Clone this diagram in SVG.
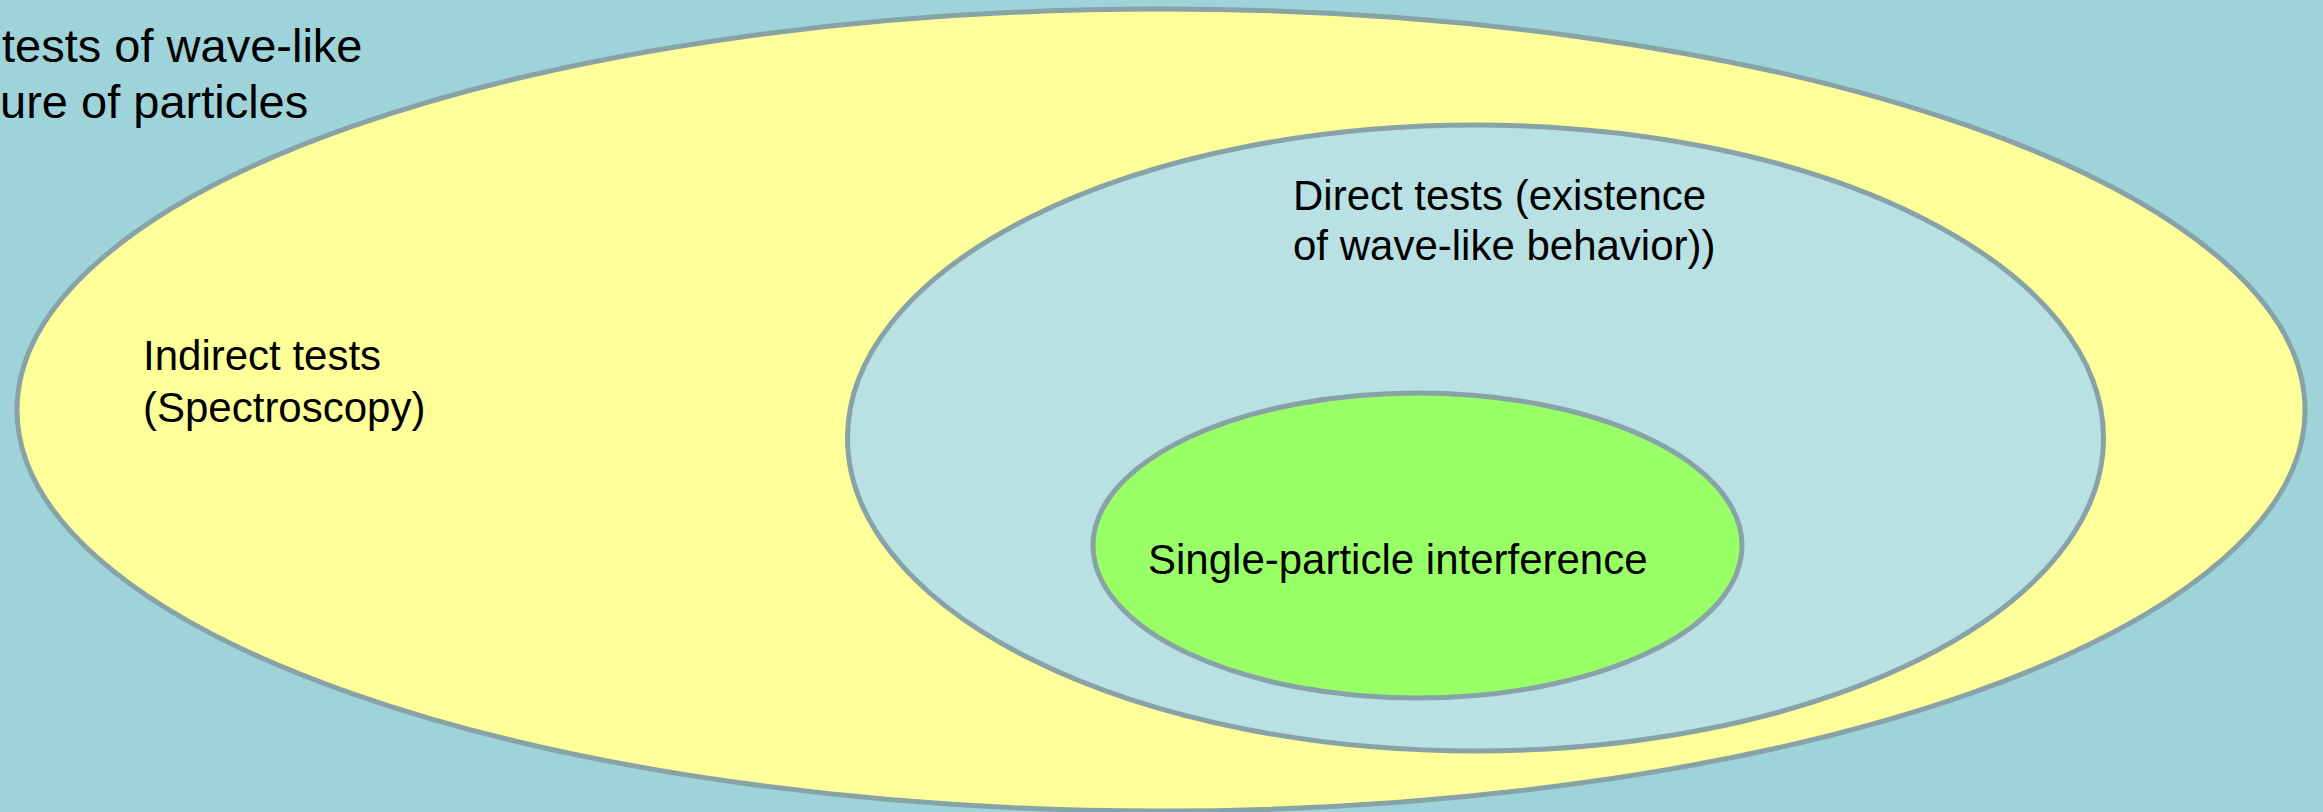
<svg xmlns="http://www.w3.org/2000/svg" width="2323" height="812" viewBox="0 0 2323 812">
<style>
.ell{stroke:#88a3a7;stroke-width:5}
.t{font-family:"Liberation Sans",Arial,sans-serif;fill:#000}
</style>
<rect x="0" y="0" width="2323" height="812" fill="#9dd3d9"/>
<g id="outer">
<ellipse class="ell" cx="1161" cy="410" rx="1144" ry="401" fill="#ffff99"/>
<text class="t" x="143" y="370" font-size="42">Indirect tests</text>
<text class="t" x="143" y="422" font-size="42">(Spectroscopy)</text>
</g>
<g id="middle">
<ellipse class="ell" cx="1475.5" cy="438" rx="628" ry="313" fill="#b9e0e3"/>
<text class="t" x="1293" y="210" font-size="42">Direct tests (existence</text>
<text class="t" x="1293" y="260" font-size="42">of wave-like behavior))</text>
</g>
<g id="inner">
<ellipse class="ell" cx="1417.5" cy="545.5" rx="324.5" ry="152.5" fill="#99ff66"/>
<text class="t" x="1148" y="574" font-size="42">Single-particle interference</text>
</g>
<g id="title">
<text class="t" x="2" y="62" font-size="47">tests of wave-like</text>
<text class="t" x="0" y="118" font-size="47">ure of particles</text>
</g>
<g id="connectors"/>
</svg>
